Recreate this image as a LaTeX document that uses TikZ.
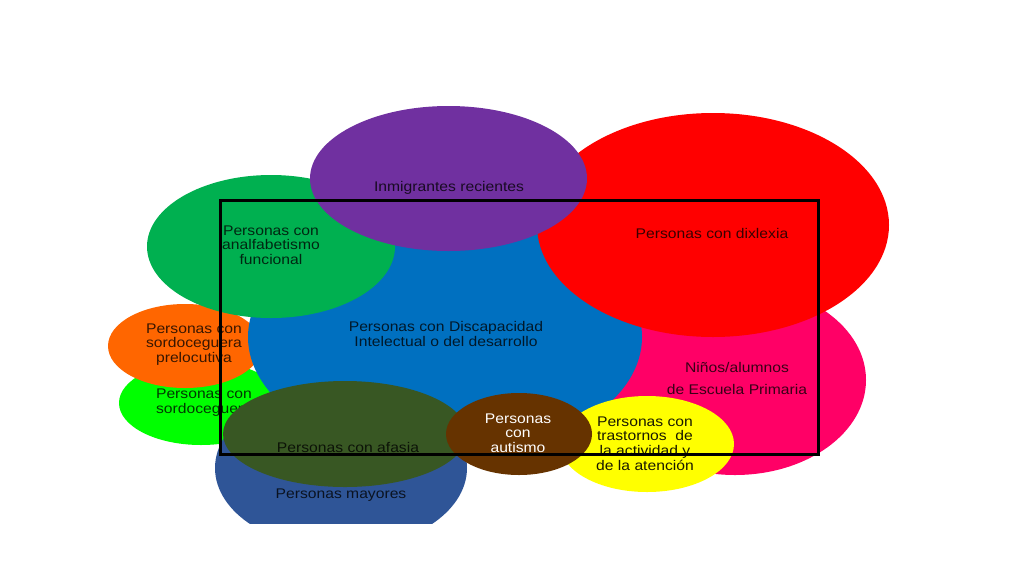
\documentclass[tikz,border=0pt]{standalone}
\usepackage{fontspec}
\setmainfont{Liberation Sans}[FakeStretch=1.12]
\usetikzlibrary{shapes.geometric}
\definecolor{cpurple}{HTML}{7030A0}
\definecolor{cgreen}{HTML}{00B050}
\definecolor{cred}{HTML}{FF0000}
\definecolor{cmagenta}{HTML}{FF0066}
\definecolor{cblue}{HTML}{0070C0}
\definecolor{corange}{HTML}{FF6600}
\definecolor{clime}{HTML}{00FF00}
\definecolor{cslate}{HTML}{2F5597}
\definecolor{colive}{HTML}{385723}
\definecolor{cbrown}{HTML}{663300}
\definecolor{cyellow}{HTML}{FFFF00}
\tikzset{
  blob/.style={ellipse, draw=none, inner sep=0pt, fill=#1},
  lbl/.style={align=center, inner sep=0pt, text opacity=0.78, text=black,
    font=\fontsize{14}{14.6}\selectfont},
  wlbl/.style={lbl, text opacity=1, text=white},
  frame/.style={draw=black, line width=3pt}
}
\begin{document}
\begin{tikzpicture}[x=1pt,y=-1pt]
\useasboundingbox (0,0) rectangle (1024,576);
\begin{scope}
\clip (0,0) rectangle (1024,523);
% magenta
\node[blob=cmagenta, minimum width=262pt, minimum height=190pt] (ninos) at (735,380) {};
\node[lbl] (ninosA) at (737,367.5) {Niños/alumnos};
\node[lbl] (ninosB) at (737,389.5) {de Escuela Primaria};
% light green
\node[blob=clime, minimum width=164pt, minimum height=84pt] (sordo) at (201,403) {};
\node[lbl] (sordot) at (204,402.5) {Personas con\\sordoceguera};
% orange
\node[blob=corange, minimum width=154pt, minimum height=84pt] (prelo) at (185,346) {};
\node[lbl] (prelot) at (194,344.5) {Personas con\\sordoceguera\\prelocutiva};
% blue
\node[blob=cblue, minimum width=394pt, minimum height=240pt] (disc) at (445,337) {};
\node[lbl] (disct) at (446,334) {Personas con Discapacidad\\Intelectual o del desarrollo};
% red
\node[blob=cred, minimum width=352pt, minimum height=224pt] (dix) at (713,225) {};
\node[lbl] (dixt) at (712,233.5) {Personas con dixlexia};
% green
\node[blob=cgreen, minimum width=248pt, minimum height=143pt] (analf) at (271,246.5) {};
\node[lbl] (analft) at (271,245) {Personas con\\analfabetismo\\funcional};
% purple
\node[blob=cpurple, minimum width=277pt, minimum height=145pt] (inmi) at (448.5,178.5) {};
\node[lbl] (inmit) at (449,187.5) {Inmigrantes recientes};
% slate
\node[blob=cslate, minimum width=252pt, minimum height=162pt] (mayo) at (341,468) {};
\node[lbl] (mayot) at (341,495.5) {Personas mayores};
% olive
\node[blob=colive, minimum width=244pt, minimum height=106pt] (afas) at (345,434) {};
\node[lbl] (afast) at (348,447.5) {Personas con afasia};
% yellow
\node[blob=cyellow, minimum width=174pt, minimum height=96pt] (tdah) at (647,444) {};
\node[lbl, text opacity=0.9] (tdaht) at (645,443.5) {Personas con\\trastornos~ de\\la actividad y\\de la atención};
% brown
\node[blob=cbrown, minimum width=146pt, minimum height=82pt] (aut) at (519,434) {};
\node[wlbl] (autt) at (518,433) {Personas\\con\\autismo};
\end{scope}
\coordinate (fa) at (220.5,200);
\coordinate (fb) at (818.5,454.5);
\draw[frame] (fa) rectangle (fb);
\end{tikzpicture}
\end{document}
